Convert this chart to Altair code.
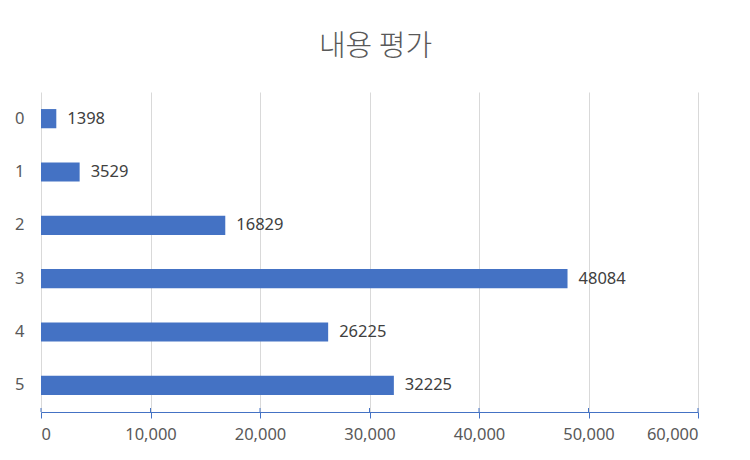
import altair as alt
import pandas as pd

categories = ["0", "1", "2", "3", "4", "5"]
values = [1398, 3529, 16829, 48084, 26225, 32225]
x_ticks = [0, 10000, 20000, 30000, 40000, 50000, 60000]

df = pd.DataFrame({"cat": categories, "val": values})
ticks_df = pd.DataFrame({"t": x_ticks})

base = alt.Chart(df)

y_enc = alt.Y(
    "cat:N",
    sort=categories,
    title=None,
    scale=alt.Scale(paddingInner=0.64, paddingOuter=0.32),
    axis=alt.Axis(
        domain=False, ticks=False, grid=False,
        labelFont="Noto Sans", labelFontSize=16.5, labelColor="#595959",
        labelPadding=17,
    ),
)

x_enc = alt.X(
    "val:Q",
    title=None,
    scale=alt.Scale(domain=[0, 60000], nice=False),
    axis=alt.Axis(
        values=x_ticks, format=",d",
        domainColor="#4472C4", domainWidth=1,
        tickColor="#4472C4", tickSize=6, tickWidth=1,
        grid=True, gridColor="#D9D9D9", gridWidth=1,
        labelFont="Noto Sans", labelFontSize=16.5, labelColor="#595959",
        labelPadding=8,
    ),
)

bars = base.mark_bar(color="#4472C4").encode(x=x_enc, y=y_enc)

labels = base.mark_text(
    align="left", baseline="middle", dx=11,
    font="Noto Sans", fontSize=16.5, color="#404040",
).encode(x="val:Q", y=alt.Y("cat:N", sort=categories), text="val:Q")

up_ticks = alt.Chart(ticks_df).mark_rule(color="#4472C4", strokeWidth=1).encode(
    x="t:Q", y=alt.value(316), y2=alt.value(320)
)

chart = (
    alt.layer(bars, labels, up_ticks)
    .properties(
        width=657,
        height=320,
        title=alt.TitleParams(
            "내용 평가",
            font="Noto Sans CJK KR",
            fontSize=29,
            fontWeight=300,
            color="#595959",
            anchor="middle",
            dx=6,
            offset=30,
        ),
        autosize=alt.AutoSizeParams(type="none"),
        padding={"left": 33, "top": 84, "right": 44, "bottom": 40},
        background="white",
    )
    .configure_view(stroke=None)
)

chart.save("out.html", embed_options={"renderer": "svg", "actions": False})
